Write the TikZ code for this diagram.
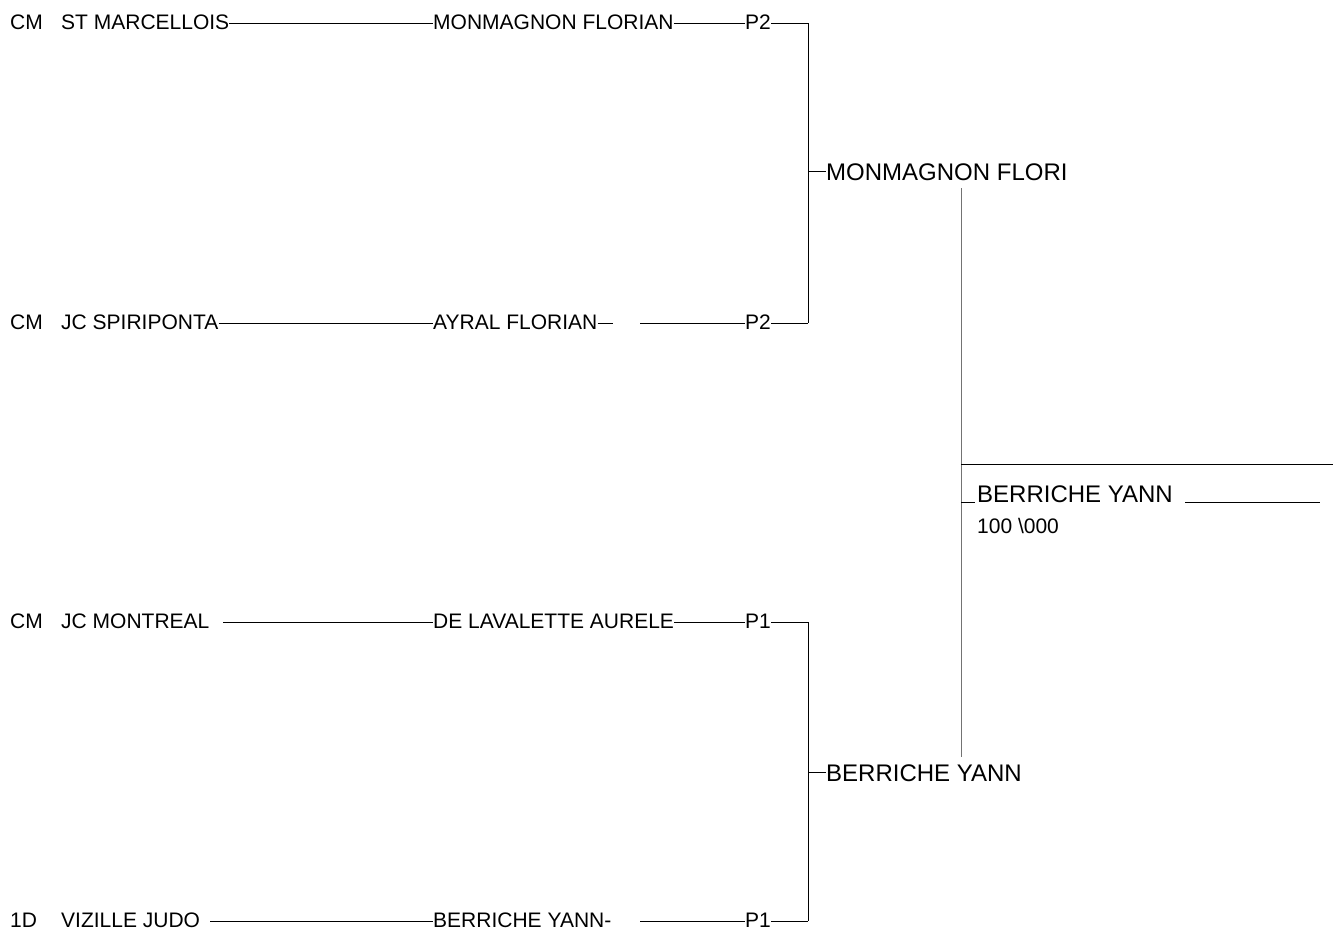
\documentclass[tikz,border=0pt]{standalone}
\usepackage{fontspec}
\setmainfont{Liberation Sans}
\begin{document}
\begin{tikzpicture}[x=1pt,y=-1pt,
  lbl/.style={inner sep=0pt,anchor=west,font=\fontsize{21}{25}\selectfont,text height=15pt,text depth=3pt},
  big/.style={inner sep=0pt,anchor=west,font=\fontsize{24}{28}\selectfont,text height=18pt,text depth=0pt},
  ln/.style={line width=1pt,black},
  gln/.style={line width=1pt,black!55}]
\useasboundingbox (0,0) rectangle (1333,929);
% row 1
\node[lbl] (g1) at (10,23) {CM};
\node[lbl] (c1) at (61,23) {ST MARCELLOIS};
\node[lbl] (n1) at (433,23) {MONMAGNON FLORIAN};
\node[lbl] (p1) at (745,23) {P2};
\coordinate (e1) at (808,23);
% row 2
\node[lbl] (g2) at (10,323) {CM};
\node[lbl] (c2) at (61,323) {JC SPIRIPONTA};
\node[lbl] (n2) at (433,323) {AYRAL FLORIAN};
\coordinate (d2) at (613,323);
\coordinate (s2) at (640,323);
\node[lbl] (p2) at (745,323) {P2};
\coordinate (e2) at (808,323);
% row 3
\node[lbl] (g3) at (10,622) {CM};
\node[lbl] (c3) at (61,622) {JC MONTREAL};
\coordinate (s3) at (223,622);
\node[lbl] (n3) at (433,622) {DE LAVALETTE AURELE};
\node[lbl] (p3) at (745,622) {P1};
\coordinate (e3) at (808,622);
% row 4
\node[lbl] (g4) at (10,921) {1D};
\node[lbl] (c4) at (61,921) {VIZILLE JUDO};
\coordinate (s4) at (210,921);
\node[lbl] (n4) at (433,921) {BERRICHE YANN-};
\coordinate (t4) at (640,921);
\node[lbl] (p4) at (745,921) {P1};
\coordinate (e4) at (808,921);
% second round
\coordinate (m1) at (808,171);
\node[big] (w1) at (826,171) {MONMAGNON FLORI};
\coordinate (m2) at (808,772);
\node[big] (w2) at (826,772) {BERRICHE YANN};
% final
\coordinate (v1) at (961,188);
\coordinate (v2) at (961,757);
\coordinate (h1) at (961,464);
\coordinate (h2) at (1333,464);
\coordinate (u1) at (961,502);
\coordinate (u2) at (975,502);
\node[big,text depth=0pt,text height=0pt] (wf) at (977,502) {BERRICHE YANN};
\coordinate (r1) at (1185,502);
\coordinate (r2) at (1320,502);
\node[lbl,anchor=base west] (sc) at (977,533) {100 \textbackslash000};
% connectors
\draw[ln] (c1.east) -- (n1.west);
\draw[ln] (n1.east) -- (p1.west);
\draw[ln] (p1.east) -- (e1) -- (e2);
\draw[ln] (c2.east) -- (n2.west);
\draw[ln] (n2.east) -- (d2);
\draw[ln] (s2) -- (p2.west);
\draw[ln] (p2.east) -- (e2);
\draw[ln] (s3) -- (n3.west);
\draw[ln] (n3.east) -- (p3.west);
\draw[ln] (p3.east) -- (e3) -- (e4);
\draw[ln] (s4) -- (n4.west);
\draw[ln] (t4) -- (p4.west);
\draw[ln] (p4.east) -- (e4);
\draw[ln] (m1) -- (w1.west);
\draw[ln] (m2) -- (w2.west);
\draw[gln] (v1) -- (v2);
\draw[ln] (h1) -- (h2);
\draw[ln] (u1) -- (u2);
\draw[ln] (r1) -- (r2);
\end{tikzpicture}
\end{document}
